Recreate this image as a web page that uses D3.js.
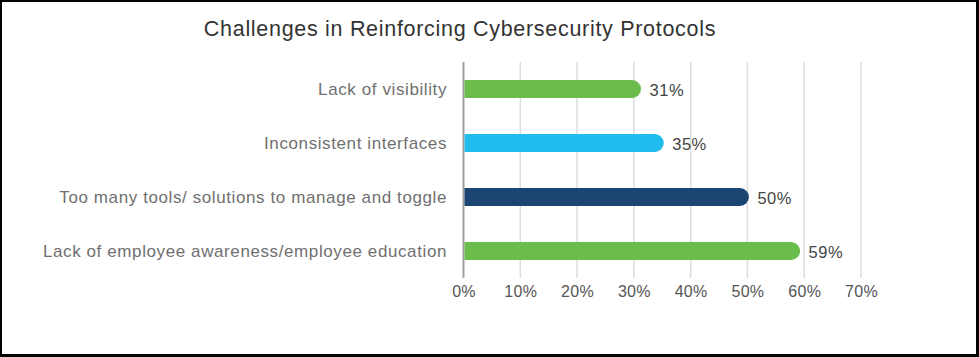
<!DOCTYPE html>
<html><head><meta charset="utf-8">
<script src="https://cdn.jsdelivr.net/npm/d3@7"></script>
<style>body{margin:0;background:#fff}svg{display:block}</style>
</head><body>
<svg id="c" width="979" height="357"></svg>
<script>
const title = "Challenges in Reinforcing Cybersecurity Protocols";
const categories = ["Lack of visibility","Inconsistent interfaces","Too many tools/ solutions to manage and toggle","Lack of employee awareness/employee education"];
const values = [31,35,50,59];
const colors = ["#6abd4b","#20bcee","#1b4573","#6abd4b"];
const tickValues = [0,10,20,30,40,50,60,70];

const svg = d3.select("#c");
const W = 979, H = 357;
svg.append("rect").attr("width",W).attr("height",H).attr("fill","#000");
svg.append("rect").attr("x",2).attr("y",2).attr("width",W-5).attr("height",H-5).attr("fill","#fff");

const font = "'Liberation Sans', Arial, sans-serif";
const x = d3.scaleLinear().domain([0,70]).range([463.5,861]);
const y = d3.scaleBand().domain(categories).range([62,278]).paddingInner(2/3).paddingOuter(1/3);

svg.append("text").attr("x",460).attr("y",36).attr("text-anchor","middle")
  .attr("font-family",font).attr("font-size",21.5).attr("letter-spacing",0.7)
  .attr("fill","#333").text(title);

// grid
const g = svg.append("g");
g.selectAll("line.grid").data(tickValues).join("line")
  .attr("x1",d=>x(d)).attr("x2",d=>x(d)).attr("y1",62).attr("y2",278)
  .attr("stroke",d=>d===0?"#a0a0a0":"#dcdcdc").attr("stroke-width",d=>d===0?2:1.5);

// x axis labels
const xAxis = d3.axisBottom(x).tickValues(tickValues).tickFormat(d=>d+"%").tickSize(0).tickPadding(0);
const ax = svg.append("g").attr("transform","translate(0,286)").call(xAxis);
ax.select(".domain").remove();
ax.selectAll("text").attr("font-family",font).attr("font-size",16).attr("letter-spacing",0.3)
  .attr("fill","#555").attr("dy","0.71em");

// y labels
const yAxis = d3.axisLeft(y).tickSize(0).tickPadding(0);
const ay = svg.append("g").attr("transform","translate(447,1)").call(yAxis);
ay.select(".domain").remove();
ay.selectAll("text").attr("font-family",font).attr("font-size",17).attr("letter-spacing",0.6)
  .attr("fill","#707070");

// bars with rounded right end
const bh = y.bandwidth();
svg.selectAll("path.bar").data(values).join("path")
  .attr("fill",(d,i)=>colors[i])
  .attr("d",(d,i)=>{
    const x0 = x(0)+1, x1 = x(d)+1.5, y0 = y(categories[i]), r = bh/2;
    return `M${x0},${y0}H${x1-r}A${r},${r} 0 0 1 ${x1},${y0+r}A${r},${r} 0 0 1 ${x1-r},${y0+bh}H${x0}Z`;
  });

svg.selectAll("text.val").data(values).join("text")
  .attr("x",(d)=>x(d)+10).attr("y",(d,i)=>y(categories[i])+bh/2+1).attr("dy","0.36em")
  .attr("font-family",font).attr("font-size",16.5).attr("letter-spacing",0.5)
  .attr("fill","#444").text(d=>d+"%");
</script>
</body></html>
